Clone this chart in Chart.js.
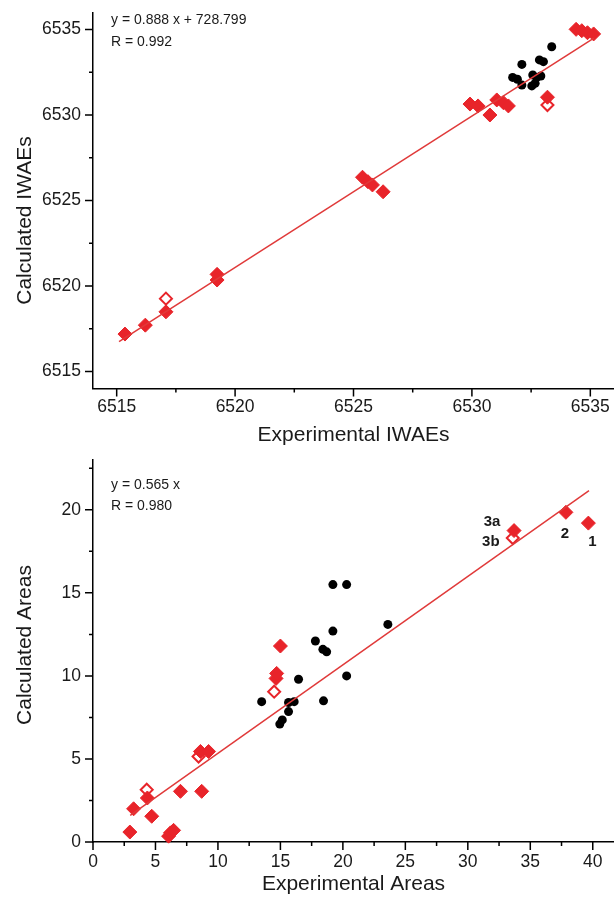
<!DOCTYPE html>
<html><head><meta charset="utf-8">
<script src="https://cdn.jsdelivr.net/npm/chart.js@4.4.1/dist/chart.umd.min.js"></script>
<style>
html,body{margin:0;padding:0;background:#fff;width:614px;height:898px;overflow:hidden}
canvas{position:absolute;left:0}
#c1{top:0}
#c2{top:448px}
</style></head><body>
<canvas id="c1" width="614" height="448"></canvas>
<canvas id="c2" width="614" height="450"></canvas>
<script>
// ---------- Top panel: IWAEs ----------
const iwaeFilledX = [6515.35, 6516.21, 6517.08, 6519.24, 6519.24, 6525.38, 6525.61, 6525.80, 6526.25,
  6529.92, 6530.26, 6530.76, 6531.05, 6531.33, 6531.54, 6533.19, 6534.40, 6534.64, 6534.88, 6535.14];
const iwaeFilledY = [6517.19, 6517.71, 6518.49, 6520.68, 6520.35, 6526.36, 6526.10, 6525.91, 6525.51,
  6530.64, 6530.53, 6530.00, 6530.88, 6530.72, 6530.53, 6531.04, 6535.01, 6534.93, 6534.81, 6534.74];
const iwaeOpenX = [6517.08, 6533.19];
const iwaeOpenY = [6519.26, 6530.58];
const iwaeBlackX = [6533.37, 6532.11, 6532.85, 6533.02, 6531.72, 6531.92, 6532.11, 6532.57, 6532.74, 6532.91, 6532.53, 6532.67];
const iwaeBlackY = [6533.99, 6532.96, 6533.22, 6533.12, 6532.20, 6532.09, 6531.75, 6532.34, 6532.20, 6532.28, 6531.70, 6531.85];
const iwaeFitX = [6515.10, 6535.15];
const iwaeFitY = [6516.75, 6534.50];
const iwaeMajorTicks = [6515, 6520, 6525, 6530, 6535];
const iwaeMinorTicks = [6517.5, 6522.5, 6527.5, 6532.5];
const iwaeNote = ['y = 0.888 x + 728.799', 'R = 0.992'];

// ---------- Bottom panel: Areas ----------
const areaFilledX = [2.95, 3.25, 4.35, 4.70, 6.05, 6.20, 6.45, 7.00, 8.60, 9.25, 8.70, 14.65, 14.70, 15.00, 33.70, 37.85, 39.65];
const areaFilledY = [0.60, 2.00, 2.65, 1.55, 0.35, 0.55, 0.70, 3.05, 5.45, 5.45, 3.05, 9.85, 10.15, 11.80, 18.75, 19.85, 19.20];
const areaOpenX = [4.30, 8.45, 14.50, 33.60];
const areaOpenY = [3.15, 5.15, 9.05, 18.30];
const areaBlackX = [13.50, 14.95, 15.15, 15.65, 15.65, 16.10, 16.45, 17.80, 18.40, 18.70, 18.45, 19.20, 19.20, 20.30, 20.30, 23.60];
const areaBlackY = [8.45, 7.10, 7.35, 7.85, 8.40, 8.45, 9.80, 12.10, 11.60, 11.45, 8.50, 12.70, 15.50, 15.50, 10.00, 13.10];
const areaFitX = [2.98, 39.70];
const areaFitY = [1.60, 21.15];
const areaXMajorTicks = [0, 5, 10, 15, 20, 25, 30, 35, 40];
const areaXMinorTicks = [2.5, 7.5, 12.5, 17.5, 22.5, 27.5, 32.5, 37.5];
const areaYMajorTicks = [0, 5, 10, 15, 20];
const areaYMinorTicks = [2.5, 7.5, 12.5, 17.5, 22.5];
const areaNote = ['y = 0.565 x', 'R = 0.980'];
const areaPointLabels = ['3a', '3b', '2', '1'];
const areaPointLabelX = [33.70, 33.60, 37.85, 39.65];
const areaPointLabelY = [18.75, 18.30, 19.85, 19.20];

// ---------- styling ----------
const FONT = '"Liberation Sans", Arial, Helvetica, sans-serif';
const RED = '#e8242a';
const LINE_RED = '#e03a3a';
const TXT = '#1a1a1a';

const pts = (xs, ys) => xs.map((x, i) => ({x: x, y: ys[i]}));

const tickMarks = {
  id: 'tickMarks',
  afterDraw(chart, args, o) {
    const ctx = chart.ctx, xs = chart.scales.x, ys = chart.scales.y;
    const a = chart.chartArea;
    ctx.save();
    ctx.strokeStyle = '#000';
    ctx.lineWidth = 1.5;
    ctx.beginPath();
    const put = (vals, len, horiz) => vals.forEach(v => {
      if (horiz) { const p = xs.getPixelForValue(v); ctx.moveTo(p, a.bottom); ctx.lineTo(p, a.bottom + len); }
      else { const p = ys.getPixelForValue(v); ctx.moveTo(a.left, p); ctx.lineTo(a.left - len, p); }
    });
    put(o.xMajor, 8, true); put(o.xMinor, 4, true);
    put(o.yMajor, 8, false); put(o.yMinor, 4, false);
    ctx.stroke();
    ctx.restore();
  }
};

const texts = {
  id: 'texts',
  afterDraw(chart, args, o) {
    const ctx = chart.ctx, a = chart.chartArea;
    ctx.save();
    ctx.fillStyle = TXT;
    // y axis title
    ctx.font = '21px ' + FONT;
    ctx.textAlign = 'center';
    ctx.textBaseline = 'middle';
    ctx.translate(o.yTitleX, (a.top + a.bottom) / 2 + o.yTitleShift);
    ctx.rotate(-Math.PI / 2);
    ctx.fillText(o.yTitle, 0, 0);
    ctx.setTransform(1, 0, 0, 1, 0, 0);
    // equation note
    ctx.font = '14px ' + FONT;
    ctx.textAlign = 'left';
    o.note.forEach((t, i) => ctx.fillText(t, a.left + 18, o.noteY[i]));
    // point labels
    if (o.labels) {
      ctx.font = 'bold 15px ' + FONT;
      ctx.textAlign = 'center';
      o.labels.forEach((t, i) => {
        const px = chart.scales.x.getPixelForValue(o.labelX[i]) + o.offsets[i][0];
        const py = chart.scales.y.getPixelForValue(o.labelY[i]) + o.offsets[i][1];
        ctx.fillText(t, px, py);
      });
    }
    ctx.restore();
  }
};

function makeChart(id, cfg) {
  const H = document.getElementById(id).height;
  return new Chart(document.getElementById(id), {
    type: 'scatter',
    data: {
      datasets: [
        {data: pts(cfg.fitX, cfg.fitY), type: 'line', showLine: true, borderColor: LINE_RED, borderWidth: 1.5,
          pointRadius: 0, fill: false, order: 0},
        {data: pts(cfg.filledX, cfg.filledY), pointStyle: 'rectRot', pointRadius: 7, backgroundColor: RED,
          borderColor: RED, borderWidth: 1, order: 1},
        {data: pts(cfg.openX, cfg.openY), pointStyle: 'rectRot', pointRadius: 6, backgroundColor: '#fff',
          borderColor: RED, borderWidth: 2, order: 2},
        {data: pts(cfg.blackX, cfg.blackY), pointStyle: 'circle', pointRadius: 4.5, backgroundColor: '#000',
          borderColor: '#000', borderWidth: 0, order: 3}
      ]
    },
    options: {
      responsive: false, animation: false, devicePixelRatio: 1, clip: false,
      layout: {autoPadding: false, padding: {top: cfg.top, left: 0, right: 0, bottom: 0}},
      plugins: {
        legend: {display: false}, tooltip: {enabled: false},
        tickMarks: {xMajor: cfg.xMajor, xMinor: cfg.xMinor, yMajor: cfg.yMajor, yMinor: cfg.yMinor},
        texts: cfg.texts
      },
      scales: {
        x: {
          type: 'linear', min: cfg.xMin, max: cfg.xMax,
          afterBuildTicks: s => { s.ticks = cfg.xMajor.map(v => ({value: v})); },
          afterFit: s => { s.height = H - cfg.bottom; s.paddingLeft = 0; s.paddingRight = 0; },
          grid: {display: false, drawTicks: false},
          border: {display: true, color: '#000', width: 1.5},
          ticks: {color: TXT, font: {family: FONT, size: 17.5}, padding: cfg.xTickPad, maxRotation: 0, autoSkip: false,
            callback: v => String(v)},
          title: {display: true, text: cfg.xTitle, color: TXT, font: {family: FONT, size: 21},
            padding: {top: 0, bottom: cfg.xTitlePad}}
        },
        y: {
          type: 'linear', min: cfg.yMin, max: cfg.yMax,
          afterBuildTicks: s => { s.ticks = cfg.yMajor.map(v => ({value: v})); },
          afterFit: s => { s.width = 93; s.paddingTop = 0; s.paddingBottom = 0; },
          grid: {display: false, drawTicks: false},
          border: {display: true, color: '#000', width: 1.5},
          ticks: {color: TXT, font: {family: FONT, size: 17.5}, padding: 12, autoSkip: false,
            callback: v => String(v)}
        }
      }
    },
    plugins: [tickMarks, texts]
  });
}

makeChart('c1', {
  fitX: iwaeFitX, fitY: iwaeFitY, filledX: iwaeFilledX, filledY: iwaeFilledY,
  openX: iwaeOpenX, openY: iwaeOpenY, blackX: iwaeBlackX, blackY: iwaeBlackY,
  xMin: 6514, xMax: 6536, yMin: 6514, yMax: 6536,
  xMajor: iwaeMajorTicks, xMinor: iwaeMinorTicks, yMajor: iwaeMajorTicks, yMinor: iwaeMinorTicks,
  top: 12.4, bottom: 388.6, xTickPad: 8.5, xTitlePad: 0,
  xTitle: 'Experimental IWAEs',
  texts: {yTitle: 'Calculated IWAEs', yTitleX: 25, yTitleShift: 20, note: iwaeNote, noteY: [20, 42]}
});

makeChart('c2', {
  fitX: areaFitX, fitY: areaFitY, filledX: areaFilledX, filledY: areaFilledY,
  openX: areaOpenX, openY: areaOpenY, blackX: areaBlackX, blackY: areaBlackY,
  xMin: 0, xMax: 41.7, yMin: 0, yMax: 23,
  xMajor: areaXMajorTicks, xMinor: areaXMinorTicks, yMajor: areaYMajorTicks, yMinor: areaYMinorTicks,
  top: 12, bottom: 394, xTickPad: 9.5, xTitlePad: 1,
  xTitle: 'Experimental Areas',
  texts: {yTitle: 'Calculated Areas', yTitleX: 25, yTitleShift: -6, note: areaNote, noteY: [37, 58],
    labels: areaPointLabels, labelX: areaPointLabelX, labelY: areaPointLabelY,
    offsets: [[-22, -9], [-22, 4], [-1, 22], [4, 19]]}
});
</script>
</body></html>
